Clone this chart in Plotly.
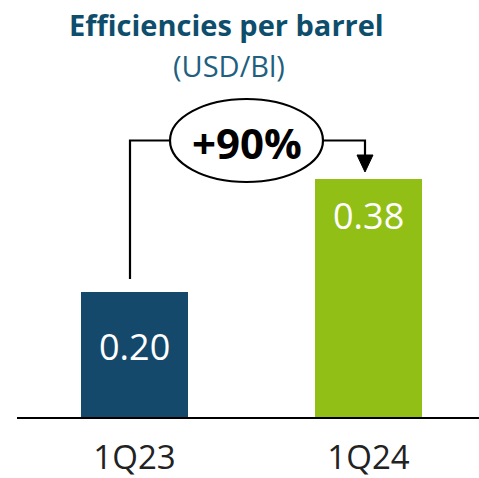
import plotly.graph_objects as go

# Data
periods = ["1Q23", "1Q24"]
values = [0.20, 0.38]
bar_colors = ["#14496B", "#92BF15"]
change_label = "+90%"

FONT = "Open Sans"

# Pixel helpers: plot area spans x 17..479, y 0..417 (baseline)
PX_PER_X = 234.0
X0_PX = 134.5
PX_PER_Y = 627.0
BASE_PX = 417.0


def dx(px):
    return (px - X0_PX) / PX_PER_X


def dy(py):
    return (BASE_PX - py) / PX_PER_Y


xpos = list(range(len(periods)))

fig = go.Figure()
fig.add_trace(go.Bar(
    x=xpos,
    y=values,
    width=107 / PX_PER_X,
    marker=dict(color=bar_colors, line=dict(width=0)),
    hoverinfo="skip",
))

# Value labels inside the bars
label_y = [dy(346), dy(215)]
annotations = []
for xi, v, ly in zip(xpos, values, label_y):
    annotations.append(dict(
        x=xi, y=ly, xref="x", yref="y", text=f"{v:.2f}", showarrow=False,
        font=dict(family=FONT, size=36, color="white"),
        xanchor="center", yanchor="middle",
    ))

# Title and unit
annotations.append(dict(
    x=dx(226), y=dy(24), xref="x", yref="y", text="<b>Efficiencies per barrel</b>",
    showarrow=False, font=dict(family=FONT, size=29, color="#0E4E6C"),
    xanchor="center", yanchor="middle",
))
annotations.append(dict(
    x=dx(229), y=dy(65), xref="x", yref="y", text="(USD/Bl)",
    showarrow=False, font=dict(family=FONT, size=29, color="#1F5F80"),
    xanchor="center", yanchor="middle",
))

# Growth label in the bubble
annotations.append(dict(
    x=dx(246.5), y=dy(142), xref="x", yref="y", text=f"<b>{change_label}</b>",
    showarrow=False, font=dict(family=FONT, size=42, color="black"),
    xanchor="center", yanchor="middle",
))

line_style = dict(color="black", width=2.2)
conn_y = dy(140.5)
shapes = [
    # bubble
    dict(type="circle", xref="x", yref="y",
         x0=dx(170), x1=dx(323), y0=dy(182), y1=dy(99),
         line=line_style, fillcolor="white", layer="above"),
    # left connector
    dict(type="path", xref="x", yref="y",
         path=f"M {dx(130)},{dy(279)} L {dx(130)},{conn_y} L {dx(170)},{conn_y}",
         line=line_style),
    # right connector
    dict(type="path", xref="x", yref="y",
         path=f"M {dx(323)},{conn_y} L {dx(365)},{conn_y} L {dx(365)},{dy(157)}",
         line=line_style),
    # arrow head
    dict(type="path", xref="x", yref="y",
         path=(f"M {dx(357)},{dy(155)} L {dx(373)},{dy(155)} "
               f"L {dx(365)},{dy(172)} Z"),
         line=dict(color="black", width=1), fillcolor="black"),
]

fig.update_layout(
    width=479, height=478,
    margin=dict(l=17, r=0, t=0, b=61),
    paper_bgcolor="white", plot_bgcolor="white",
    showlegend=False,
    bargap=0,
    annotations=annotations,
    shapes=shapes,
    xaxis=dict(
        range=[dx(17), dx(479)],
        tickmode="array", tickvals=xpos, ticktext=periods,
        tickfont=dict(family=FONT, size=33, color="#222222"),
        showline=True, linecolor="black", linewidth=1.5,
        showgrid=False, zeroline=False, ticks="",
        ticklabelstandoff=11,
    ),
    yaxis=dict(
        range=[0, BASE_PX / PX_PER_Y],
        visible=False, showgrid=False, zeroline=False,
    ),
)

fig.write_html("out.html")
